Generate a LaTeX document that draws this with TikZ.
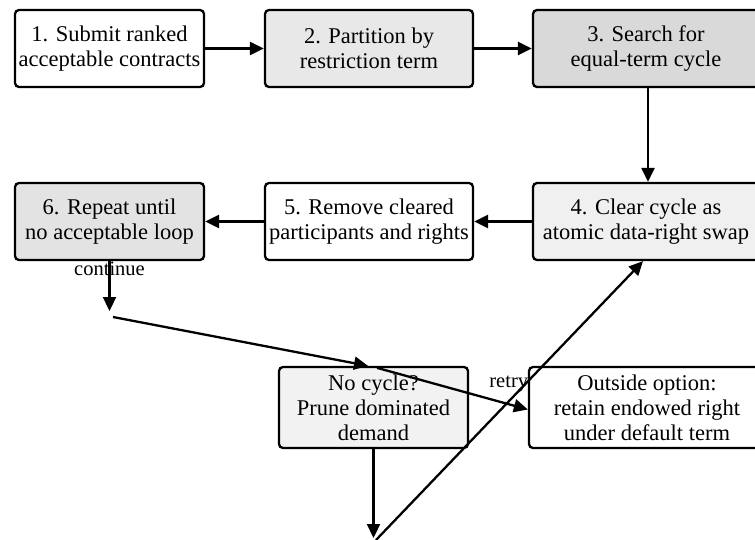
\documentclass[tikz,border=0pt]{standalone}
\usepackage{fontspec}
\setmainfont{Liberation Serif}
\usetikzlibrary{arrows.meta,calc}
\begin{document}
\begin{tikzpicture}[x=1pt,y=-1pt,
  box/.style={draw=black, line width=2.3pt, rounded corners=4pt, align=center,
    inner sep=0pt, minimum height=77pt,
    font=\fontsize{22.5}{25}\selectfont},
  tall/.style={minimum height=81pt},
  arr/.style={line width=2.3pt, -{Triangle[length=14pt,width=13pt]}},
  lbl/.style={font=\fontsize{20.5}{23}\selectfont, inner sep=0pt}]
\useasboundingbox (0,0) rectangle (755,540);
\clip (0,0) rectangle (755,540);
\fill[white] (0,0) rectangle (755,540);
\node[box, fill=white, minimum width=189pt] (n1) at (109.5,48.5) {1. Submit ranked\\acceptable contracts};
\node[box, fill=black!9, minimum width=208pt] (n2) at (369,48.5) {2. Partition by\\restriction term};
\node[box, fill=black!15, minimum width=226pt] (n3) at (646,48.5) {3. Search for\\equal-term cycle};
\node[box, fill=black!6, minimum width=226pt] (n4) at (646,221.5) {4. Clear cycle as\\atomic data-right swap};
\node[box, fill=white, minimum width=208pt] (n5) at (369,221.5) {5. Remove cleared\\participants and rights};
\node[box, fill=black!11, minimum width=189pt] (n6) at (109.5,221.5) {6. Repeat until\\no acceptable loop};
\node[box, tall, fill=black!5, minimum width=189pt] (n7) at (373.5,407.5) {No cycle?\\Prune dominated\\demand};
\node[box, tall, fill=white, minimum width=236pt] (n8) at (647,407.5) {Outside option:\\retain endowed right\\under default term};
\coordinate (c1) at (109.5,311);
\coordinate (c2) at (113,317);
\coordinate (c4) at (373.5,538);
\coordinate (c5) at (376,540);
\draw[arr] (n1) -- (n2);
\draw[arr] (n2) -- (n3);
\draw[arr] ([xshift=2pt]n3.south) -- ([xshift=2pt]n4.north);
\draw[arr] (n4) -- (n5);
\draw[arr] (n5) -- (n6);
\draw[arr] (n6.south) -- (c1) node[lbl, pos=0.16] {continue};
\draw[arr] (c2) -- ([xshift=-5.5pt]n7.north);
\draw[arr] ([xshift=3.5pt,yshift=-2pt]n7.north) -- ([yshift=-2pt]n8.west) node[lbl, pos=0.9, xshift=-4pt, yshift=21pt] {retry};
\draw[arr] (n7.south) -- (c4);
\draw[arr] (c5) -- ([xshift=-3pt]n4.south);
\end{tikzpicture}
\end{document}
